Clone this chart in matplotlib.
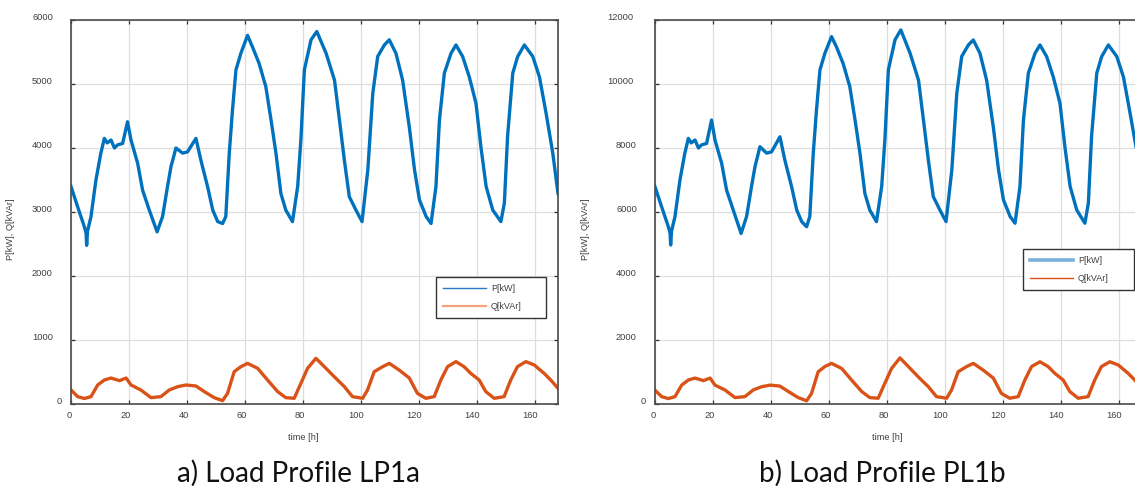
import matplotlib
matplotlib.use('Agg')
import matplotlib.pyplot as plt
from matplotlib.lines import Line2D
from matplotlib.transforms import ScaledTranslation

# --- data (time in h) ---
t_p = [0, 2.3, 4.6, 5.2, 5.4, 5.7, 6.9, 8.6, 10.3, 11.5, 12.5, 13.8, 15, 16.1, 17.8, 19.5,
       20.7, 23, 24.7, 27, 29.7, 31.6, 33.3, 34.5, 36.2, 38.5, 40.2, 43.1, 44.8, 47.1,
       48.9, 50.6, 52.3, 53.4, 54.6, 55.7, 56.9, 58.6, 60.9, 62.6, 64.9, 67.2, 69, 70.7,
       72.4, 74.1, 76.4, 78.2, 79.3, 80.5, 82.8, 84.8, 88, 90.9, 92.6, 94.3, 96, 98.3,
       100.4, 102.4, 104.1, 105.8, 108.1, 109.8, 112.1, 114.4, 116.7, 118.5, 120.2,
       122.5, 124.2, 125.9, 127.1, 128.8, 131.1, 132.8, 135.1, 137.4, 139.7, 141.4,
       143.2, 145.5, 148.3, 149.5, 150.6, 152.4, 154.1, 156.4, 159.3, 161.6, 163.9,
       166.2, 168]

p_a = [3400, 3080, 2770, 2670, 2480, 2700, 2930, 3500, 3920, 4150, 4080, 4125, 4000, 4050,
       4070, 4410, 4125, 3760, 3340, 3030, 2690, 2930, 3400, 3710, 4000, 3920, 3940, 4150,
       3810, 3400, 3030, 2850, 2820, 2930, 3920, 4590, 5220, 5480, 5760, 5580, 5320, 4960,
       4440, 3920, 3290, 3030, 2850, 3400, 4125, 5220, 5690, 5820, 5480, 5060, 4440, 3810,
       3240, 3030, 2850, 3660, 4850, 5430, 5610, 5690, 5480, 5060, 4330, 3660, 3190, 2930,
       2820, 3400, 4440, 5170, 5480, 5610, 5430, 5110, 4700, 4020, 3400, 3030, 2850, 3140,
       4180, 5170, 5430, 5610, 5430, 5110, 4540, 3920, 3290]

p_b = [6790, 6160, 5540, 5340, 4970, 5400, 5860, 7000, 7840, 8300, 8160, 8250, 8000, 8100,
       8140, 8875, 8250, 7520, 6680, 6060, 5330, 5860, 6800, 7420, 8040, 7840, 7880, 8350,
       7620, 6800, 6060, 5700, 5540, 5860, 7840, 9180, 10440, 10960, 11480, 11160, 10640,
       9920, 8880, 7840, 6580, 6060, 5700, 6800, 8250, 10440, 11380, 11690, 10960, 10120,
       8880, 7620, 6480, 6060, 5700, 7320, 9700, 10860, 11220, 11375, 10960, 10120, 8660,
       7320, 6380, 5860, 5650, 6800, 8880, 10340, 10960, 11220, 10860, 10220, 9400, 8040,
       6800, 6060, 5650, 6280, 8360, 10340, 10860, 11220, 10860, 10220, 9080, 7900, 7000]

t_q = [0, 2.3, 4.6, 6.9, 9.2, 11.5, 13.8, 16.7, 19, 20.7, 24.1, 27.6, 31, 33.9, 36.8, 39.7,
       43.1, 46, 49.4, 52.3, 54, 56.3, 58.6, 60.9, 64.4, 67.8, 71.3, 74.1, 77, 79.3, 81.6,
       84.5, 87.4, 90.8, 94.3, 97.1, 100.6, 102.3, 104.6, 107.5, 109.8, 113.2, 116.7, 119.5,
       122.4, 125.3, 127.6, 129.9, 132.8, 135.6, 137.9, 140.8, 143.1, 146, 149.4, 151.7,
       154, 156.9, 159.8, 163.2, 165.5, 168]

q_a = [219, 115, 86, 115, 297, 375, 406, 365, 406, 297, 219, 99, 115, 219, 271, 297, 281,
       193, 99, 52, 167, 505, 583, 635, 557, 375, 193, 99, 89, 323, 557, 714, 583, 427, 271,
       115, 89, 219, 505, 583, 635, 531, 406, 167, 89, 115, 375, 583, 662, 583, 479, 375,
       193, 89, 115, 375, 583, 662, 610, 479, 375, 245]

q_b = [430, 230, 170, 230, 590, 750, 810, 730, 810, 590, 440, 200, 230, 440, 540, 590, 560,
       390, 200, 100, 330, 1010, 1170, 1270, 1110, 750, 390, 200, 180, 650, 1110, 1440, 1170,
       850, 540, 230, 180, 440, 1010, 1170, 1270, 1060, 810, 330, 180, 230, 750, 1170, 1320,
       1170, 960, 750, 390, 180, 230, 750, 1170, 1320, 1220, 960, 750, 500]

x_ticks = [0, 20, 40, 60, 80, 100, 120, 140, 160]
y_ticks_a = [0, 1000, 2000, 3000, 4000, 5000, 6000]
y_ticks_b = [0, 2000, 4000, 6000, 8000, 10000, 12000]

P_COLOR = '#0072BD'
Q_COLOR = '#D95319'
TXT = '#404040'
LW = 2.4

plt.rcParams['font.family'] = ['Liberation Sans', 'DejaVu Sans']

fig = plt.figure(figsize=(11.35, 4.86), dpi=100)
W, H = 1135.0, 486.0


def setup_axes(ax, ymax, yticks):
    ax.set_xlim(0, 168)
    ax.set_ylim(0, ymax)
    ax.set_xticks(x_ticks)
    ax.set_yticks(yticks)
    ax.grid(True, color='#dedede', lw=0.9)
    ax.set_axisbelow(True)
    ax.tick_params(direction='in', length=3, width=0.9, color='#333333',
                   top=True, right=True, labelsize=6.7, labelcolor=TXT)
    ax.tick_params(axis='y', pad=4.1)
    ax.tick_params(axis='x', pad=5.0)
    for s in ax.spines.values():
        s.set_color('#4a4a4a')
        s.set_linewidth(1.2)
    ax.set_xlabel('time [h]', fontsize=6.7, color=TXT)
    ax.xaxis.set_label_coords(0.476, -0.075)
    ax.set_ylabel('P[kW], Q[kVAr]', fontsize=6.7, color=TXT)
    # MATLAB-export style offsets of the tick labels
    for lab, v in zip(ax.get_yticklabels(), yticks):
        n = len(str(v))
        lab.set_transform(lab.get_transform() +
                          ScaledTranslation(-3.1 * n / 100, 3.7 / 100, fig.dpi_scale_trans))
    for lab, v in zip(ax.get_xticklabels(), x_ticks):
        n = len(str(v))
        lab.set_transform(lab.get_transform() +
                          ScaledTranslation(-1.55 * n / 100, 0, fig.dpi_scale_trans))


# left panel
ax1 = fig.add_axes([71 / W, 82 / H, 487 / W, 384 / H])
ax1.plot(t_p, p_a, color=P_COLOR, lw=LW, solid_joinstyle='round')
ax1.plot(t_q, q_a, color=Q_COLOR, lw=LW, solid_joinstyle='round')
setup_axes(ax1, 6000, y_ticks_a)
ax1.yaxis.set_label_coords(-0.115, 0.456)

# right panel (cut off at the figure edge)
ax2 = fig.add_axes([655 / W, 82 / H, 487 / W, 384 / H])
ax2.plot(t_p, p_b, color=P_COLOR, lw=LW, solid_joinstyle='round')
ax2.plot(t_q, q_b, color=Q_COLOR, lw=LW, solid_joinstyle='round')
setup_axes(ax2, 12000, y_ticks_b)
ax2.yaxis.set_label_coords(-0.133, 0.456)

leg_kw = dict(loc='upper left', mode='expand', fontsize=6.5, handlelength=4.8,
              handletextpad=0.55, borderpad=0.75, labelspacing=1.05,
              fancybox=False, framealpha=1, borderaxespad=0)

h1 = [Line2D([], [], color='#2a78c2', lw=1.0), Line2D([], [], color='#f3a47f', lw=1.6)]
lg1 = fig.legend(h1, ['P[kW]', 'Q[kVAr]'], bbox_to_anchor=(436 / W, 1 - 319 / H, 110 / W, 42 / H),
                 **leg_kw)
h2 = [Line2D([], [], color='#79b0dd', lw=2.6), Line2D([], [], color=Q_COLOR, lw=1.0)]
lg2 = fig.legend(h2, ['P[kW]', 'Q[kVAr]'], bbox_to_anchor=(1023 / W, 1 - 291 / H, 111 / W, 42 / H),
                 **leg_kw)
for lg in (lg1, lg2):
    lg.get_frame().set_edgecolor('#333333')
    lg.get_frame().set_linewidth(1.0)
    for tx in lg.get_texts():
        tx.set_color(TXT)

fig.text(298 / W, 4.5 / H, 'a) Load Profile LP1a', ha='center', va='baseline',
         fontsize=20, family='Lato', color='#111111')
fig.text(882 / W, 4.5 / H, 'b) Load Profile PL1b', ha='center', va='baseline',
         fontsize=20, family='Lato', color='#111111')

fig.savefig('out.png', dpi=100)
